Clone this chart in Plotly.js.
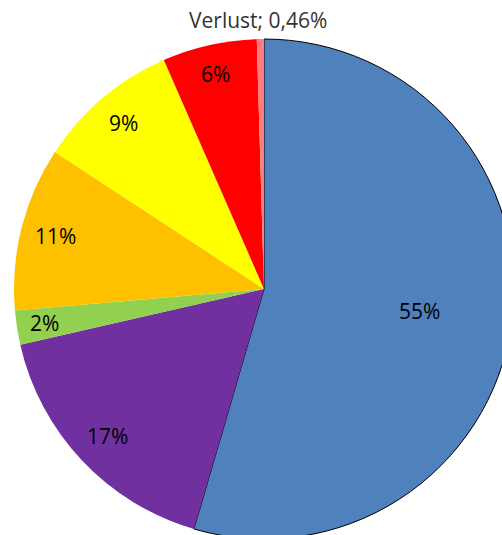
<!DOCTYPE html>
<html>
<head>
<meta charset="utf-8">
<script src="https://cdn.plot.ly/plotly-3.0.1.min.js"></script>
<style>
html, body { margin: 0; padding: 0; background: #ffffff; overflow: hidden; width: 502px; height: 535px; }
#chart { width: 600px; height: 600px; }
</style>
</head>
<body>
<div id="chart"></div>
<script>
// Data (clockwise from 12 o'clock)
var categories = ["Categorie 1", "Categorie 2", "Categorie 3", "Categorie 4", "Categorie 5", "Categorie 6", "Verlust"];
var values = [54.5, 16.9, 2.2, 10.6, 9.2, 6.1, 0.46];
var colors = ["#4F81BD", "#7030A0", "#92D050", "#FFC000", "#FFFF00", "#FF0000", "#FF7C80"];
var lineWidths = [1, 0, 0, 0, 0, 0, 0];
var labelRadius = [0.63, 0.86, 0.89, 0.86, 0.87, 0.88, null];

var total = values.reduce(function (a, b) { return a + b; }, 0);

var annotations = [];
var cum = 0;
for (var i = 0; i < values.length; i++) {
  var frac = values[i] / total;
  var mid = (cum + frac / 2) * 2 * Math.PI;
  cum += frac;
  if (labelRadius[i] === null) {
    var pct = (frac * 100).toFixed(2).replace('.', ',');
    annotations.push({
      text: categories[i] + '; ' + pct + '%',
      xref: 'paper', yref: 'paper',
      x: 0.487, y: 1.038, xanchor: 'center', yanchor: 'middle',
      showarrow: false,
      font: { family: 'Open Sans, sans-serif', size: 21, color: '#333333' }
    });
  } else {
    annotations.push({
      text: Math.round(frac * 100) + '%',
      xref: 'paper', yref: 'paper',
      x: 0.5 + 0.5 * labelRadius[i] * Math.sin(mid),
      y: 0.5 + 0.5 * labelRadius[i] * Math.cos(mid),
      xanchor: 'center', yanchor: 'middle',
      showarrow: false,
      font: { family: 'Open Sans, sans-serif', size: 21, color: '#000000' }
    });
  }
}

var trace = {
  type: 'pie',
  labels: categories,
  values: values,
  sort: false,
  direction: 'clockwise',
  rotation: 0,
  textinfo: 'none',
  hoverinfo: 'skip',
  marker: {
    colors: colors,
    line: { color: '#000000', width: lineWidths }
  },
  domain: { x: [0, 1], y: [0, 1] }
};

var layout = {
  width: 600,
  height: 600,
  margin: { l: 14, r: 86, t: 39, b: 61 },
  showlegend: false,
  paper_bgcolor: '#ffffff',
  annotations: annotations
};

Plotly.newPlot('chart', [trace], layout, { staticPlot: true, displayModeBar: false });
</script>
</body>
</html>
